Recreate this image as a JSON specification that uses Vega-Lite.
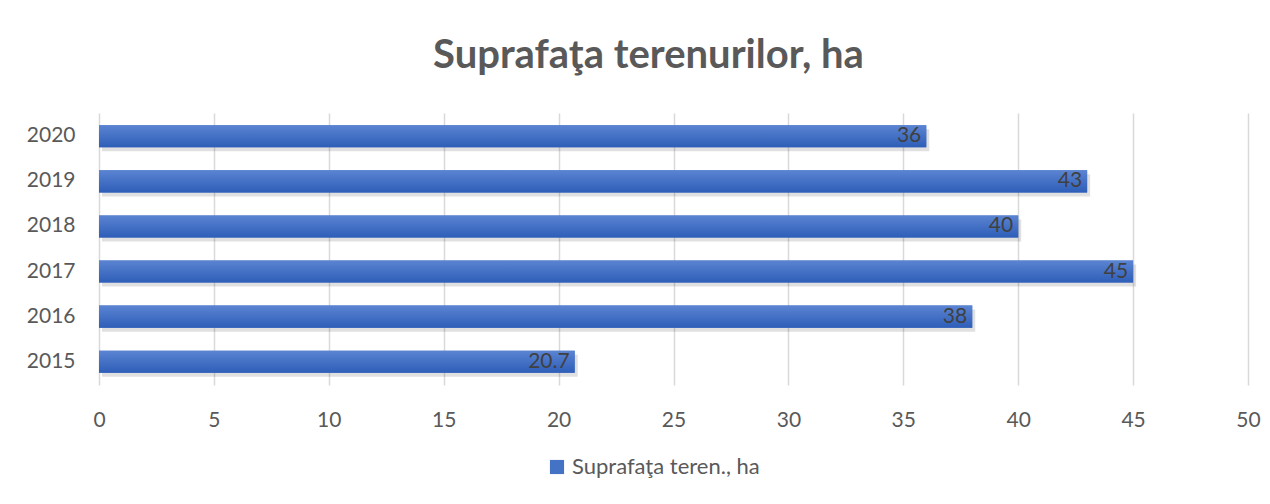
{
  "$schema": "https://vega.github.io/schema/vega-lite/v6.json",
  "width": 1149,
  "height": 272,
  "autosize": {"type": "none"},
  "padding": {"left": 99, "top": 113, "right": 22, "bottom": 119},
  "background": "white",
  "title": {
    "text": "Suprafaţa terenurilor, ha",
    "font": "Lato",
    "fontSize": 40,
    "fontWeight": "bold",
    "color": "#595959",
    "anchor": "middle",
    "dx": -25,
    "offset": 37
  },
  "data": {
    "values": [
      {"year": "2015", "value": 20.7, "series": "Suprafaţa teren., ha"},
      {"year": "2016", "value": 38, "series": "Suprafaţa teren., ha"},
      {"year": "2017", "value": 45, "series": "Suprafaţa teren., ha"},
      {"year": "2018", "value": 40, "series": "Suprafaţa teren., ha"},
      {"year": "2019", "value": 43, "series": "Suprafaţa teren., ha"},
      {"year": "2020", "value": 36, "series": "Suprafaţa teren., ha"}
    ]
  },
  "encoding": {
    "y": {
      "field": "year",
      "type": "nominal",
      "sort": "descending",
      "title": null,
      "scale": {"paddingInner": 0.51, "paddingOuter": 0.27},
      "axis": {
        "ticks": false,
        "domain": false,
        "labelFont": "Lato",
        "labelFontSize": 21,
        "labelColor": "#595959",
        "labelPadding": 24,
        "grid": false
      }
    },
    "x": {
      "field": "value",
      "type": "quantitative",
      "title": null,
      "scale": {"domain": [0, 50], "nice": false},
      "axis": {
        "values": [0, 5, 10, 15, 20, 25, 30, 35, 40, 45, 50],
        "ticks": false,
        "domain": false,
        "grid": true,
        "gridColor": "#D9D9D9",
        "gridWidth": 1.5,
        "labelFlush": false,
        "labelFont": "Lato",
        "labelFontSize": 21,
        "labelColor": "#595959",
        "labelPadding": 24
      }
    }
  },
  "layer": [
    {
      "mark": {
        "type": "bar",
        "color": "#000000",
        "opacity": 0.12,
        "xOffset": 3,
        "yOffset": 4
      }
    },
    {
      "mark": {"type": "bar"},
      "encoding": {
        "color": {
          "field": "series",
          "type": "nominal",
          "scale": {"range": ["#4472C4"]},
          "legend": {
            "title": null,
            "orient": "none",
            "legendX": 447,
            "legendY": 343,
            "direction": "horizontal",
            "symbolType": "square",
            "symbolSize": 200,
            "symbolStrokeWidth": 0,
            "labelFont": "Lato",
            "labelFontSize": 22,
            "labelColor": "#595959",
            "labelLimit": 400,
            "labelOffset": 4
          }
        }
      }
    },
    {
      "mark": {
        "type": "bar",
        "color": {
          "gradient": "linear",
          "x1": 0, "y1": 0, "x2": 0, "y2": 1,
          "stops": [
            {"offset": 0, "color": "#5B84D2"},
            {"offset": 1, "color": "#2E5EB8"}
          ]
        }
      }
    },
    {
      "mark": {
        "type": "text",
        "align": "right",
        "baseline": "middle",
        "dx": -5,
        "font": "Lato",
        "fontSize": 21,
        "color": "#404040"
      },
      "encoding": {
        "text": {"field": "value", "type": "quantitative"}
      }
    }
  ],
  "config": {"view": {"stroke": null}}
}
